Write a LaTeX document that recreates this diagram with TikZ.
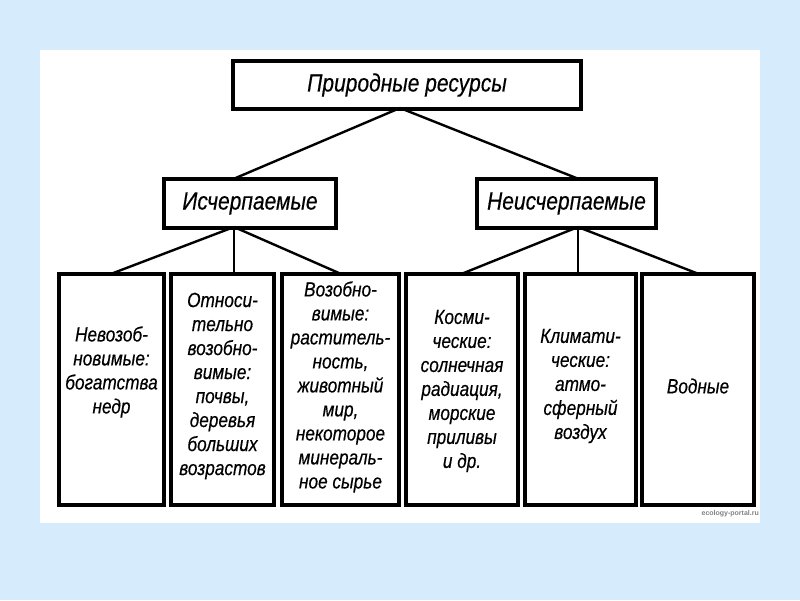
\documentclass[tikz,border=0pt]{standalone}
\usepackage{fontspec}
\newfontfamily\df{Liberation Sans}[FakeStretch=0.84,FakeBold=0.4]
\newfontfamily\wm{Liberation Sans}
\definecolor{bgblue}{RGB}{214,236,252}
\definecolor{wmgray}{RGB}{130,130,130}
\begin{document}
\begin{tikzpicture}[x=1pt,y=-1pt,
  box/.style={draw=black,line width=2.6pt,fill=white,rectangle,inner sep=0pt},
  conn/.style={draw=black,line width=2.4pt},
  txt/.style={align=center,inner sep=0pt,font=\df\itshape\fontsize{20.5}{24}\selectfont}
]
\useasboundingbox (0,0) rectangle (800,600);
\fill[bgblue] (0,0) rectangle (800,600);
\fill[white] (40,50) rectangle (760,523);

% boxes
\node[box,minimum width=346pt,minimum height=46pt] (top) at (407,85) {};
\node[box,minimum width=170pt,minimum height=47pt] (ex) at (250,203.5) {};
\node[box,minimum width=177pt,minimum height=47pt] (nex) at (566.5,203.5) {};
\node[box,minimum width=103pt,minimum height=229pt] (b1) at (111.5,389.5) {};
\node[box,minimum width=101pt,minimum height=229pt] (b2) at (222.5,389.5) {};
\node[box,minimum width=115pt,minimum height=229pt] (b3) at (340.5,389.5) {};
\node[box,minimum width=110pt,minimum height=229pt] (b4) at (462,389.5) {};
\node[box,minimum width=109pt,minimum height=229pt] (b5) at (580.5,389.5) {};
\node[box,minimum width=110pt,minimum height=229pt] (b6) at (698,389.5) {};

% fan points
\coordinate (tf) at (400,108);
\coordinate (ef) at (234,227);
\coordinate (nf) at (578,227);

% connectors
\draw[conn] (tf) -- (ex.north -| ef);
\draw[conn] (tf) -- (nex.north -| nf);
\draw[conn] (ef) -- (b1.north);
\draw[conn] (ef) -- (b2.north -| ef);
\draw[conn] (ef) -- (b3.north);
\draw[conn] (nf) -- (b4.north);
\draw[conn] (nf) -- (b5.north -| nf);
\draw[conn] (nf) -- (b6.north);

% redraw box outlines over line ends
\foreach \n in {top,ex,nex,b1,b2,b3,b4,b5,b6}{\draw[line width=2.6pt] (\n.north west) rectangle (\n.south east);}

% texts
\node[txt,font=\df\itshape\fontsize{25}{28}\selectfont] (ttop) at (top.center) {Природные ресурсы};
\node[txt,font=\df\itshape\fontsize{25}{28}\selectfont] (tex) at (ex.center) {Исчерпаемые};
\node[txt,font=\df\itshape\fontsize{25}{28}\selectfont] (tnex) at (nex.center) {Неисчерпаемые};
\node[txt] (t1) at (111.5,372) {Невозоб-\\новимые:\\богатства\\недр};
\node[txt] (t2) at (222.5,386) {Относи-\\тельно\\возобно-\\вимые:\\почвы,\\деревья\\больших\\возрастов};
\node[txt] (t3) at (340.5,387) {Возобно-\\вимые:\\раститель-\\ность,\\животный\\мир,\\некоторое\\минераль-\\ное сырье};
\node[txt] (t4) at (462,391) {Косми-\\ческие:\\солнечная\\радиация,\\морские\\приливы\\и др.};
\node[txt] (t5) at (580.5,386) {Климати-\\ческие:\\атмо-\\сферный\\воздух};
\node[txt] (t6) at (698,386) {Водные};

\node[anchor=east,inner sep=0pt,text=wmgray,font=\wm\bfseries\fontsize{7}{8}\selectfont] (wmk) at (759,514) {ecology-portal.ru};
\end{tikzpicture}
\end{document}
